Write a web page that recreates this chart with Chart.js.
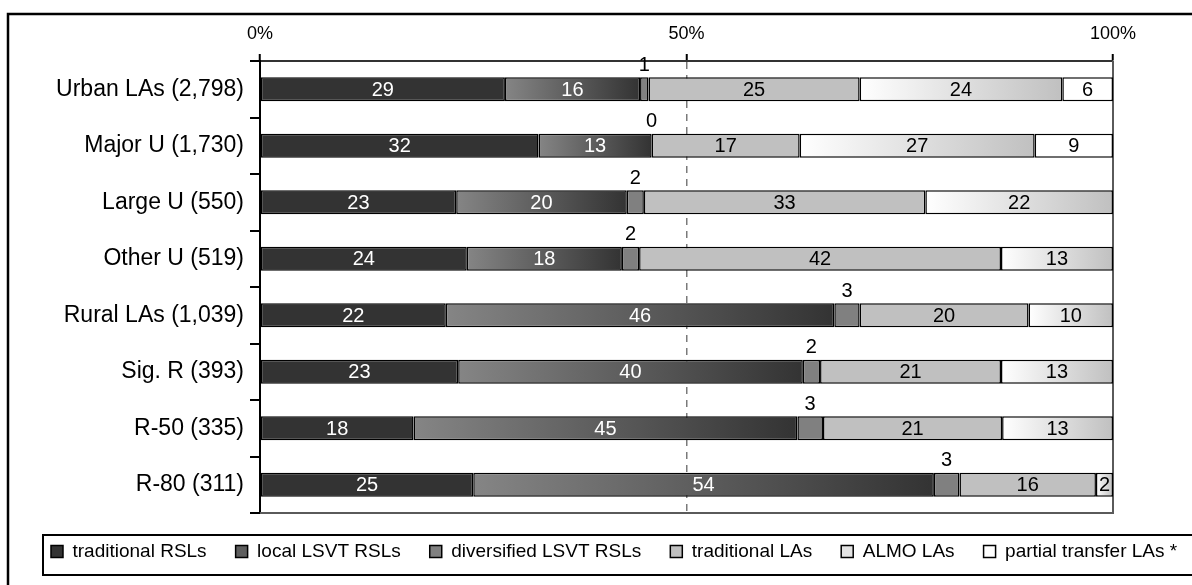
<!DOCTYPE html>
<html>
<head>
<meta charset="utf-8">
<script src="https://cdn.jsdelivr.net/npm/chart.js@4.4.1/dist/chart.umd.min.js"></script>
<style>
html, body { margin: 0; padding: 0; background: #ffffff; }
#c { display: block; }
</style>
</head>
<body>
<canvas id="c" width="1192" height="585"></canvas>
<script>
// ---- data (percent labels as shown) ----
const categories = ['Urban LAs (2,798)', 'Major U (1,730)', 'Large U (550)', 'Other U (519)',
                    'Rural LAs (1,039)', 'Sig. R (393)', 'R-50 (335)', 'R-80 (311)'];
const seriesNames = ['traditional RSLs', 'local LSVT RSLs', 'diversified LSVT RSLs',
                     'traditional LAs', 'ALMO LAs', 'partial transfer LAs *'];
const traditionalRSLs   = [29, 32, 23, 24, 22, 23, 18, 25];
const localLSVTRSLs     = [16, 13, 20, 18, 46, 40, 45, 54];
const diversifiedLSVT   = [1, 0, 2, 2, 3, 2, 3, 3];
const traditionalLAs    = [25, 17, 33, 42, 20, 21, 21, 16];
const almoLAs           = [24, 27, 22, 13, 10, 13, 13, 2];
const partialTransfer   = [6, 9, null, null, null, null, null, null];
const xTickValues = [0, 50, 100];

const rawSeries = [traditionalRSLs, localLSVTRSLs, diversifiedLSVT, traditionalLAs, almoLAs, partialTransfer];
// 100% stacked: each row is scaled to its own total
const rowTotals = categories.map((_, i) => rawSeries.reduce((s, arr) => s + (arr[i] || 0), 0));
const plotSeries = rawSeries.map(arr => arr.map((v, i) => v === null ? null : v / rowTotals[i] * 100));

const FONT = '"Liberation Sans", Arial, sans-serif';
Chart.defaults.font.family = FONT;
Chart.defaults.color = '#000';

function segGradient(from, to) {
  return function (ctx) {
    if (ctx.type !== 'data' || !ctx.chart.chartArea) return to;
    const chart = ctx.chart, i = ctx.dataIndex, di = ctx.datasetIndex;
    const xs = chart.scales.x;
    let start = 0;
    for (let k = 0; k < di; k++) start += plotSeries[k][i] || 0;
    const end = start + (plotSeries[di][i] || 0);
    const x0 = xs.getPixelForValue(start), x1 = xs.getPixelForValue(end);
    if (!(x1 > x0)) return from;
    const g = chart.ctx.createLinearGradient(x0, 0, x1, 0);
    g.addColorStop(0, from);
    g.addColorStop(1, to);
    return g;
  };
}

const fills = [
  '#333333',
  segGradient('#858585', '#333333'),
  '#808080',
  '#c0c0c0',
  segGradient('#ffffff', '#c0c0c0'),
  '#ffffff'
];
const legendFills = ['#333333', '#5e5e5e', '#808080', '#c0c0c0', '#e4e4e4', '#ffffff'];

const datasets = seriesNames.map((name, di) => ({
  label: name,
  data: plotSeries[di],
  backgroundColor: fills[di],
  borderColor: '#000000',
  borderWidth: 1.5,
  borderSkipped: false,
  barPercentage: 0.425,
  categoryPercentage: 1.0
}));

const framePlugin = {
  id: 'frame',
  afterLayout(chart) {
    // legend row starts inside its framed box
    const l = chart.legend;
    if (l) { l.left += 22; l.right += 22; }
  },
  beforeDraw(chart) {
    const c = chart.ctx;
    c.save();
    c.fillStyle = '#ffffff';
    c.fillRect(0, 0, chart.width, chart.height);
    c.strokeStyle = '#000';
    c.lineWidth = 2.5;
    c.beginPath();
    c.moveTo(8, chart.height + 5);
    c.lineTo(8, 14);
    c.lineTo(chart.width + 5, 14);
    c.stroke();
    // legend box
    c.lineWidth = 2;
    c.strokeRect(43, 535, chart.width + 20, 40);
    c.restore();
  },
  beforeDatasetsDraw(chart) {
    const a = chart.chartArea, c = chart.ctx;
    c.save();
    c.strokeStyle = '#5a5a5a';
    c.lineWidth = 2;
    c.beginPath();
    c.moveTo(a.left, a.bottom);
    c.lineTo(a.right, a.bottom);
    c.lineTo(a.right, a.top);
    c.stroke();
    c.restore();
  }
};

const labelPlugin = {
  id: 'segLabels',
  afterDatasetsDraw(chart) {
    const c = chart.ctx;
    c.save();
    c.font = '20px ' + FONT;
    c.textAlign = 'center';
    c.textBaseline = 'middle';
    chart.data.datasets.forEach((ds, di) => {
      const meta = chart.getDatasetMeta(di);
      meta.data.forEach((bar, i) => {
        const v = rawSeries[di][i];
        if (v === null || v === undefined) return;
        const p = bar.getProps(['x', 'y', 'base', 'height'], true);
        const cx = (p.x + p.base) / 2;
        if (di === 2) {
          c.fillStyle = '#000';
          c.fillText(String(v), cx, p.y - p.height / 2 - 12);
        } else {
          c.fillStyle = di < 2 ? '#ffffff' : '#000000';
          c.fillText(String(v), cx, p.y + 1);
        }
      });
    });
    c.restore();
  }
};

new Chart(document.getElementById('c'), {
  type: 'bar',
  data: { labels: categories, datasets },
  options: {
    responsive: false,
    animation: false,
    indexAxis: 'y',
    layout: { padding: { left: 0, right: 0, top: 15, bottom: 14 } },
    scales: {
      x: {
        position: 'top',
        stacked: true,
        min: 0,
        max: 100,
        afterBuildTicks(s) { s.ticks = xTickValues.map(v => ({ value: v })); },
        afterFit(s) { s.height = 46; },
        ticks: {
          padding: 9,
          font: { size: 18 },
          color: '#000',
          callback: v => v + '%'
        },
        grid: {
          color: c => (c.tick && c.tick.value === 50) ? '#7a7a7a' : 'rgba(0,0,0,0)',
          lineWidth: 1.5,
          drawTicks: true,
          tickLength: 7,
          tickColor: '#000',
          tickWidth: 2
        },
        border: { display: true, color: '#333', width: 2, dash: [7, 6] }
      },
      y: {
        stacked: true,
        position: 'left',
        afterFit(s) { s.width = 260; },
        ticks: { padding: 6, font: { size: 23 }, color: '#000' },
        grid: {
          offset: true,
          drawOnChartArea: false,
          drawTicks: true,
          tickLength: 10,
          tickColor: '#000',
          tickWidth: 2,
          lineWidth: 2,
          color: '#000'
        },
        border: { display: true, color: '#000', width: 2 }
      },
      yR: {
        type: 'category',
        position: 'right',
        display: true,
        afterFit(s) { s.width = 79; },
        ticks: { display: false },
        grid: { display: false },
        border: { display: false }
      }
    },
    plugins: {
      title: { display: false },
      tooltip: { enabled: false },
      legend: {
        display: true,
        position: 'bottom',
        align: 'start',
        labels: {
          boxWidth: 12,
          boxHeight: 12,
          padding: 29,
          color: '#000',
          font: { size: 19 },
          generateLabels(chart) {
            const items = Chart.defaults.plugins.legend.labels.generateLabels(chart);
            items.forEach((it, k) => {
              it.fillStyle = legendFills[k];
              it.strokeStyle = '#000';
              it.lineWidth = 1.5;
            });
            return items;
          }
        }
      }
    }
  },
  plugins: [framePlugin, labelPlugin]
});
</script>
</body>
</html>
